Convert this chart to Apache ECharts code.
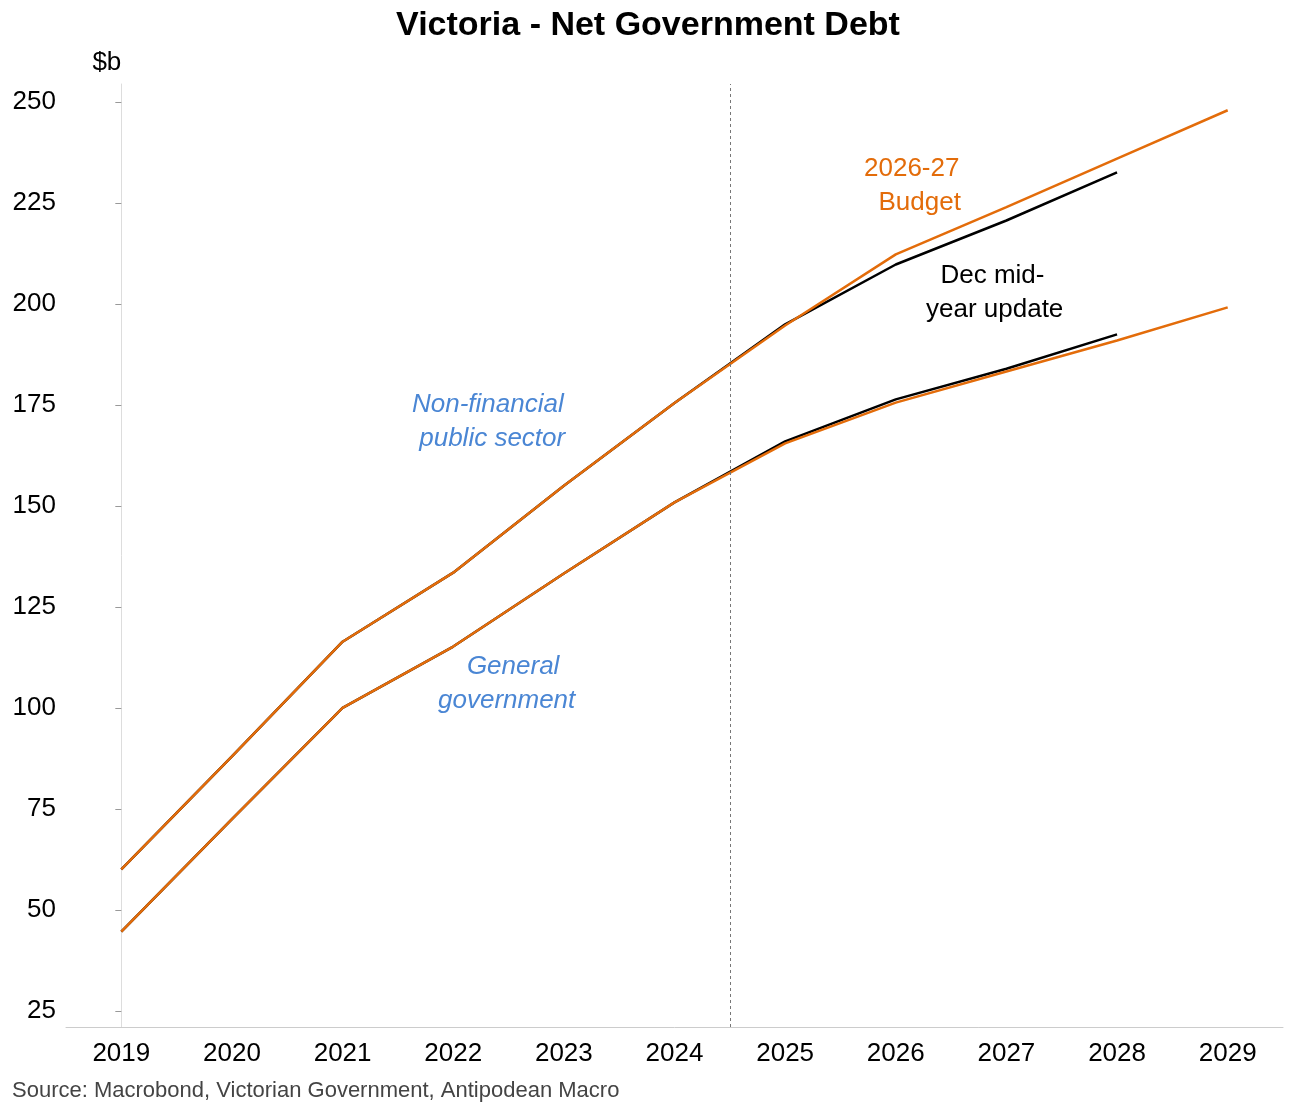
<!DOCTYPE html>
<html>
<head>
<meta charset="utf-8" />
<script src="https://cdn.jsdelivr.net/npm/echarts@6/dist/echarts.min.js"></script>
<style>body{margin:0;background:#fff}</style>
</head>
<body>
<div id="main" style="width:1296px;height:1106px;"></div>
<script>
var years = ['2019','2020','2021','2022','2023','2024','2025','2026','2027','2028','2029'];
var yTicks = [25, 50, 75, 100, 125, 150, 175, 200, 225, 250];
var nfpsBudget = [60, 88, 116.4, 133.5, 155, 175.5, 194.7, 212.3, 224, 236, 248];
var nfpsMyu = [60, 88, 116.4, 133.5, 155, 175.5, 195, 209.8, 220.7, 232.6, null];
var ggBudget = [44.6, 72.5, 100, 115.2, 133.3, 150.9, 165.5, 175.6, 183.3, 191, 199.2];
var ggMyu = [44.6, 72.5, 100, 115.2, 133.3, 150.9, 166, 176.4, 184, 192.5, null];
var dividerAt = 5.5; // between 2024 and 2025

var orange = '#E36C0A';
var blue = '#4A86D4';
var font = 'Liberation Sans, Arial, sans-serif';
var myChart = echarts.init(document.getElementById('main'));

function line(name, data, color, z) {
  return {
    name: name, type: 'line', data: data, symbol: 'none', z: z,
    lineStyle: { color: color, width: 2.5 }, itemStyle: { color: color }
  };
}

var option = {
  animation: false,
  title: {
    text: 'Victoria - Net Government Debt', left: 'center', top: 4,
    textStyle: { fontFamily: font, fontSize: 34, fontWeight: 'bold', color: '#000' }
  },
  grid: { left: 66, right: 13, top: 84, bottom: 79 },
  xAxis: [{
    type: 'category', data: years, boundaryGap: true,
    axisLine: { lineStyle: { color: '#ccc' } },
    axisTick: { length: 6, lineStyle: { color: '#999' } },
    axisLabel: { fontFamily: font, fontSize: 26, color: '#000', margin: 14 }
  }, {
    type: 'value', min: -0.5, max: 10.5, show: false
  }],
  yAxis: {
    type: 'value', min: 21, max: 254.5,
    splitLine: { show: false },
    axisLine: { show: true, lineStyle: { color: '#ddd' } },
    axisTick: { show: true, length: 6, lineStyle: { color: '#999' }, customValues: yTicks },
    axisLabel: { fontFamily: font, fontSize: 26, color: '#000', margin: 10, customValues: yTicks },
    name: '$b', nameLocation: 'end', nameGap: 8,
    nameTextStyle: { fontFamily: font, fontSize: 26, color: '#000', align: 'right', padding: [0, 0, 0, 0] }
  },
  series: [
    line('NFPS MYU', nfpsMyu, '#000', 2),
    line('GG MYU', ggMyu, '#000', 2),
    line('NFPS Budget', nfpsBudget, orange, 3),
    line('GG Budget', ggBudget, orange, 3),
    {
      type: 'line', xAxisIndex: 1, data: [], silent: true,
      markLine: {
        symbol: 'none', label: { show: false },
        lineStyle: { color: '#777', type: [3, 3], width: 1 },
        data: [{ xAxis: dividerAt }]
      }
    }
  ],
  graphic: [
    { type: 'text', left: 864, top: 152, style: { text: '2026-27\n  Budget', fill: orange, font: '26px ' + font, lineHeight: 34 } },
    { type: 'text', left: 926, top: 259, style: { text: '  Dec mid-\nyear update', fill: '#000', font: '26px ' + font, lineHeight: 34, align: 'center', x: 78 } },
    { type: 'text', left: 412, top: 388, style: { text: 'Non-financial\n public sector', fill: blue, font: 'italic 26px ' + font, lineHeight: 34 } },
    { type: 'text', left: 438, top: 650, style: { text: '    General\ngovernment', fill: blue, font: 'italic 26px ' + font, lineHeight: 34 } },
    { type: 'text', left: 12, top: 1080, style: { text: 'Source: Macrobond, Victorian Government, Antipodean Macro', fill: '#444', font: '22px ' + font } }
  ]
};
myChart.setOption(option);
</script>
</body>
</html>
